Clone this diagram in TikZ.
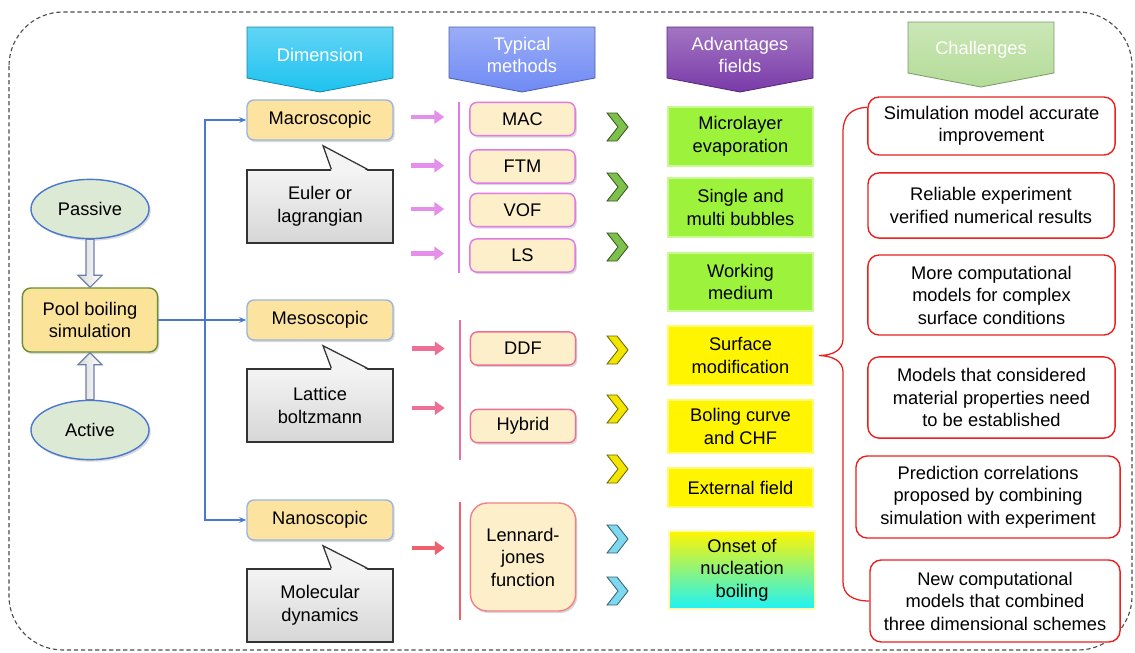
\documentclass[tikz,border=0pt]{standalone}
\usepackage{fontspec}
\setmainfont{Liberation Sans}
\usepackage{tikz}
\usetikzlibrary{arrows.meta, shapes.geometric, shadows, calc, positioning}

\definecolor{hdcyan}{HTML}{1EC2F0}
\definecolor{hdblue}{HTML}{6F8AF4}
\definecolor{hdpurple}{HTML}{7A3AA8}
\definecolor{hdgreen}{HTML}{B4DC98}
\definecolor{elfill}{HTML}{DCEAD5}
\definecolor{linkblue}{HTML}{4A78CF}
\definecolor{slate}{HTML}{6A7FA8}
\definecolor{poolfill}{HTML}{FCE39A}
\definecolor{poolline}{HTML}{6A8E34}
\definecolor{dimfill}{HTML}{FDE3A0}
\definecolor{dimline}{HTML}{9DB5DA}
\definecolor{callgray}{HTML}{F4F4F4}
\definecolor{methfill}{HTML}{FDEFC9}
\definecolor{macpink}{HTML}{E17AE6}
\definecolor{mesopink}{HTML}{EE6F96}
\definecolor{nanored}{HTML}{F0606C}
\definecolor{advgreen}{HTML}{9DF23C}
\definecolor{advyellow}{HTML}{FFF500}
\definecolor{advcyan}{HTML}{1EF2F8}
\definecolor{onsetmid}{HTML}{E6FFC0}
\definecolor{chalred}{HTML}{E8201E}
\definecolor{chevgreen}{HTML}{7DC04B}
\definecolor{chevyellow}{HTML}{F2E600}
\definecolor{chevcyan}{HTML}{7ED8F0}

\tikzset{
  frame/.style={draw=black!70, line width=0.8pt, dash pattern=on 3pt off 2pt, rounded corners=1.35cm},
  soft shadow/.style={drop shadow={shadow xshift=1.2pt, shadow yshift=-1.5pt, opacity=0.3}},
  hdshape/.style={line width=0.6pt},
  hdtext/.style={text=white, align=center},
  oval/.style={ellipse, draw=linkblue, line width=1pt, fill=elfill, minimum width=2.95cm, minimum height=1.48cm, inner sep=0pt, soft shadow},
  poolbox/.style={rectangle, rounded corners=6pt, fill=poolfill, draw=poolline, line width=1pt, minimum width=3.38cm, minimum height=1.6cm, inner sep=0pt, align=center, soft shadow},
  hollow/.style={draw=slate, line width=0.8pt, left color=gray!30, right color=white},
  link/.style={draw=linkblue, line width=0.9pt},
  dimbox/.style={rectangle, rounded corners=5pt, fill=dimfill, draw=dimline, line width=1pt, minimum width=3.65cm, minimum height=1cm, inner sep=0pt, soft shadow},
  callbox/.style={rectangle, draw=black!80, line width=0.9pt, top color=callgray, middle color=gray!9, bottom color=gray!32, minimum width=3.65cm, minimum height=1.83cm, inner sep=0pt, align=center},
  calledge/.style={draw=black!80, line width=0.9pt},
  methbox/.style={rectangle, rounded corners=5pt, fill=methfill, line width=1pt, minimum width=2.63cm, minimum height=0.83cm, inner sep=0pt, align=center, soft shadow},
  marrow/.style={line width=3.2pt, -{Triangle[length=7pt, width=9.5pt]}},
  mline/.style={line width=1.3pt},
  chev/.style={line width=0.6pt},
  advbox/.style={rectangle, minimum width=3.63cm, inner sep=0pt, align=center, line width=1.2pt},
  chalbox/.style={rectangle, rounded corners=8pt, draw=chalred, line width=1pt, fill=white, align=center, inner sep=0pt},
  brace/.style={draw=chalred, line width=0.9pt},
}

\begin{document}
\begin{tikzpicture}[x=0.025cm, y=-0.025cm, font=\fontsize{13}{16}\selectfont]
\useasboundingbox (0,0) rectangle (1135,652);

% outer frame
\draw[frame] (9,12) rectangle (1132,650);

% column headers
\foreach \cx/\tp/\col/\nm/\txt in {320/27/hdcyan/hdim/Dimension, 522/27/hdblue/hmeth/{Typical\\methods}, 740/27/hdpurple/hadv/{Advantages\\fields}, 981/22/hdgreen/hchal/Challenges} {
  \draw[hdshape, top color=\col!70!white, bottom color=\col, draw=\col!70!black] ({\cx-73},\tp) -- ({\cx+73},\tp) -- ({\cx+73},\tp+51) -- (\cx,\tp+65) -- ({\cx-73},\tp+51) -- cycle;
  \node[hdtext] (\nm) at (\cx,\tp+28) {\txt};
}

% pool boiling
\node[oval] (pas) at (90,209) {Passive};
\node[oval] (act) at (90,430) {Active};
\node[poolbox] (pool) at (90,320) {Pool boiling\\simulation};

\draw[hollow] ($(pas.south)+(-4,0)$) -- ($(pool.north)+(-4,-12)$) -- ($(pool.north)+(-12,-12)$) -- (pool.north) -- ($(pool.north)+(12,-12)$) -- ($(pool.north)+(4,-12)$) -- ($(pas.south)+(4,0)$) -- cycle;
\draw[hollow] ($(act.north)+(-4,0)$) -- ($(pool.south)+(-4,12)$) -- ($(pool.south)+(-12,12)$) -- (pool.south) -- ($(pool.south)+(12,12)$) -- ($(pool.south)+(4,12)$) -- ($(act.north)+(4,0)$) -- cycle;

% dimension
\node[dimbox] (macro) at (320,120) {Macroscopic};
\node[dimbox] (meso) at (320,320) {Mesoscopic};
\node[dimbox] (nano) at (320,520) {Nanoscopic};

\coordinate (bus) at (205,320);
\draw[link, -{Stealth[length=5pt, width=4pt]}] (pool.east) -- (meso.west);
\draw[link, -{Stealth[length=5pt, width=4pt]}] (bus) |- (macro.west);
\draw[link, -{Stealth[length=5pt, width=4pt]}] (bus) |- (nano.west);

\node[callbox] (euler) at (320,206.5) {Euler or\\lagrangian};
\node[callbox] (latt) at (320,405.5) {Lattice\\boltzmann};
\node[callbox] (mol) at (320,605.5) {Molecular\\dynamics};
\foreach \b/\d in {euler/macro, latt/meso, mol/nano} {
  \fill[callgray] ($(\b.north west)+(85,1.5)$) -- ($(\d.south)+(3,5)$) -- ($(\b.north west)+(121,1.5)$) -- cycle;
  \draw[calledge] ($(\b.north west)+(85,0)$) -- ($(\d.south)+(3,5)$) -- ($(\b.north west)+(121,0)$);
}

% typical methods
\node[methbox, draw=macpink] (mac) at (522.5,119) {MAC};
\node[methbox, draw=macpink] (ftm) at (522.5,166.5) {FTM};
\node[methbox, draw=macpink] (vof) at (522.5,210) {VOF};
\node[methbox, draw=macpink] (ls) at (522.5,255.5) {LS};
\node[methbox, draw=mesopink] (ddf) at (523,348.5) {DDF};
\node[methbox, draw=mesopink] (hybrid) at (523,426) {Hybrid};
\node[methbox, draw=nanored!80!white, rounded corners=12pt, minimum height=2.7cm] (lj) at (523,557) {Lennard-\\jones\\function};

\foreach \n/\dy in {mac/-2, ftm/-1, vof/-1, ls/-2}
  \draw[marrow, macpink!85!white] ($(\n.west)+(-58,\dy)$) -- ($(\n.west)+(-25,\dy)$);
\foreach \n/\dy in {ddf/0, hybrid/-18}
  \draw[marrow, mesopink] ($(\n.west)+(-58,\dy)$) -- ($(\n.west)+(-25,\dy)$);
\draw[marrow, nanored] ($(lj.west)+(-58,-9)$) -- ($(lj.west)+(-25,-9)$);

\draw[mline, draw=macpink] ($(mac.north west)+(-10,0)$) -- ($(ls.south west)+(-10,0)$);
\draw[mline, draw=mesopink] ($(ddf.north west)+(-10,-11)$) -- ($(hybrid.south west)+(-10,17)$);
\draw[mline, draw=nanored] ($(lj.north west)+(-10,0)$) -- ($(lj.south west)+(-10,8)$);

% chevrons
\foreach \y/\col in {127/chevgreen, 187/chevgreen, 247/chevgreen, 350/chevyellow, 409/chevyellow, 469/chevyellow, 539/chevcyan, 591/chevcyan}
  \filldraw[chev, fill=\col, draw=\col!45!black] (607,\y-14) -- ++(10,0) -- ++(11,14) -- ++(-11,14) -- ++(-10,0) -- ++(11,-14) -- cycle;

% advantages fields
\node[advbox, fill=advgreen, draw=advgreen!55!white, minimum height=1.48cm] (micro) at (740.5,136.5) {Microlayer\\evaporation};
\node[advbox, fill=advgreen, draw=advgreen!55!white, minimum height=1.48cm] (single) at (740.5,207.5) {Single and\\multi bubbles};
\node[advbox, fill=advgreen, draw=advgreen!55!white, minimum height=1.45cm] (work) at (740.5,282) {Working\\medium};
\node[advbox, fill=advyellow, draw=advyellow!55!white, minimum height=1.48cm] (surf) at (740.5,355.5) {Surface\\modification};
\node[advbox, fill=advyellow, draw=advyellow!55!white, minimum height=1.33cm] (boil) at (740.5,426.5) {Boling curve\\and CHF};
\node[advbox, fill=advyellow, draw=advyellow!55!white, minimum height=0.98cm] (ext) at (740.5,487.5) {External field};
\node[advbox, top color=advyellow, middle color=onsetmid, bottom color=advcyan, draw=white!70!advyellow, minimum width=3.65cm, minimum height=1.95cm] (onset) at (742,570) {Onset of\\nucleation\\boiling};

% challenges
\node[chalbox, minimum width=6.18cm, minimum height=1.45cm] (ch1) at (991.5,126) {Simulation model accurate\\improvement};
\node[chalbox, minimum width=6.15cm, minimum height=1.63cm] (ch2) at (991,205.5) {Reliable experiment\\verified numerical results};
\node[chalbox, minimum width=6.18cm, minimum height=2cm] (ch3) at (991.5,295) {More computational\\models for complex\\surface conditions};
\node[chalbox, minimum width=6.18cm, minimum height=2.03cm] (ch4) at (991.5,397.5) {Models that considered\\material properties need\\to be established};
\node[chalbox, minimum width=6.6cm, minimum height=2.05cm] (ch5) at (988,497) {Prediction correlations\\proposed by combining\\simulation with experiment};
\node[chalbox, minimum width=6.25cm, minimum height=2.05cm] (ch6) at (995,601) {New computational\\models that combined\\three dimensional schemes};

\coordinate (btip) at ($(surf.east)+(5,0)$);
\draw[brace] ($(ch1.north west)+(0,11)$) .. controls (851,108) and (843,116) .. (843,132) -- (843,339) .. controls (843,350) and (833,355.5) .. (btip) .. controls (833,356) and (843,361) .. (843,372) -- (843,582) .. controls (843,594) and (852,601) .. (ch6.west);
\end{tikzpicture}
\end{document}
